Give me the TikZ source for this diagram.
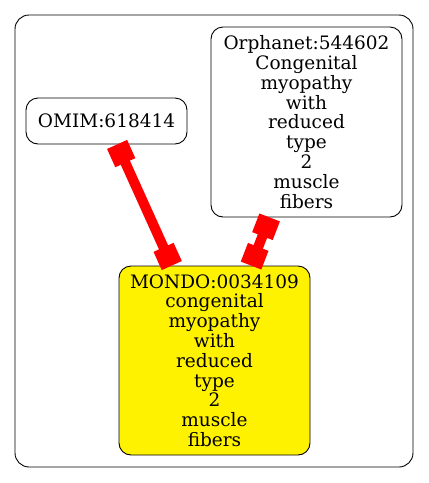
\documentclass[tikz,border=0pt]{standalone}
\usepackage{fontspec}
\setmainfont{DejaVu Serif}
\usetikzlibrary{arrows.meta,positioning}
\begin{document}
\begin{tikzpicture}[x=1pt,y=-1pt,font=\fontsize{18.5}{19.8}\selectfont,
      nd/.style={draw,rounded corners=12pt,line width=0.9pt,align=center,inner sep=0pt},
      lnk/.style={draw=red,line width=10pt,{Square[length=20pt,width=22pt]}-{Square[length=20pt,width=22pt]}}]
      \useasboundingbox (0,0) rectangle (429,483);
      \draw[rounded corners=14pt,line width=0.9pt] (15,15) rectangle (413,467);
      \node[nd,minimum width=161pt,minimum height=46pt] (omim) at (106.5,121) {OMIM:618414};
      \node[nd,minimum width=191pt,minimum height=190pt] (orpha) at (306.5,122) {Orphanet:544602\\Congenital\\myopathy\\with\\reduced\\type\\2\\muscle\\fibers};
      \node[nd,fill=yellow,minimum width=191pt,minimum height=189pt] (mondo) at (214.5,360.5) {MONDO:0034109\\congenital\\myopathy\\with\\reduced\\type\\2\\muscle\\fibers};
      \draw[lnk] (omim) -- (mondo);
      \draw[lnk] (orpha) -- (mondo);
    \end{tikzpicture}
\end{document}
